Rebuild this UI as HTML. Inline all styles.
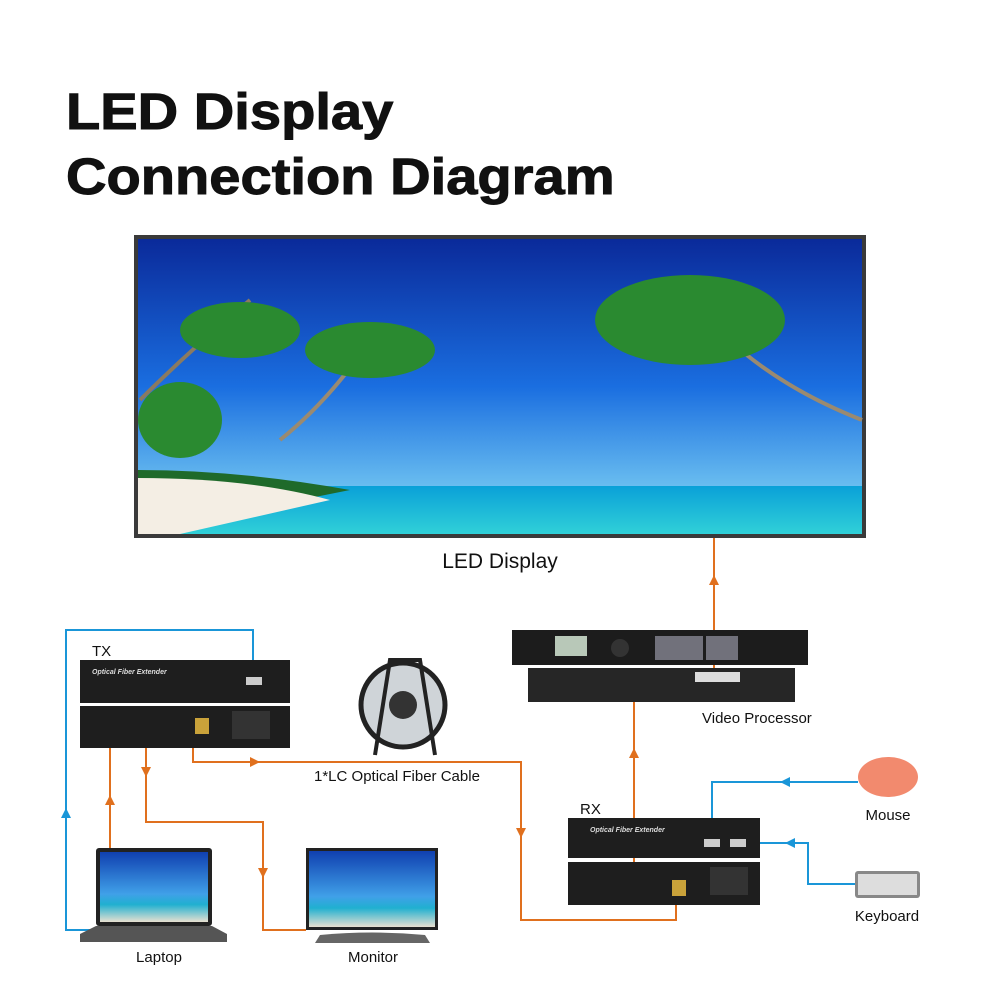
<!DOCTYPE html>
<html><head><meta charset="utf-8"><style>
html,body{margin:0;padding:0;background:#fff;width:1000px;height:1000px;overflow:hidden}
svg{display:block}
text{font-family:"Liberation Sans",Arial,sans-serif}
</style></head><body>
<svg width="1000" height="1000" viewBox="0 0 1000 1000" xmlns="http://www.w3.org/2000/svg">
<defs>
<linearGradient id="sky" x1="0" y1="0" x2="0" y2="1">
<stop offset="0" stop-color="#0a2a9a"/><stop offset="0.5" stop-color="#1a6ee0"/><stop offset="0.85" stop-color="#6cc0f0"/><stop offset="1" stop-color="#b8e4f8"/>
</linearGradient>
<linearGradient id="sea" x1="0" y1="0" x2="0" y2="1">
<stop offset="0" stop-color="#0aa0d8"/><stop offset="1" stop-color="#30d0d8"/>
</linearGradient>
<linearGradient id="scr" x1="0" y1="0" x2="0" y2="1">
<stop offset="0" stop-color="#1040b0"/><stop offset="0.6" stop-color="#40a0e8"/><stop offset="0.75" stop-color="#20b0d0"/><stop offset="1" stop-color="#e8e0d0"/>
</linearGradient>
</defs>
<g transform="translate(66,0) scale(1.1,1) translate(-66,0)">
<text x="66" y="129" font-size="51" font-weight="bold" fill="#111" stroke="#111" stroke-width="1">LED Display</text>
<text x="66" y="194" font-size="51" font-weight="bold" fill="#111" stroke="#111" stroke-width="1">Connection Diagram</text>
</g>

<!-- LED display -->
<rect x="134" y="235" width="732" height="303" fill="#3a3a3a"/>
<rect x="138" y="239" width="724" height="295" fill="url(#sky)"/>
<rect x="138" y="486" width="724" height="48" fill="url(#sea)"/>
<path d="M138 470 Q240 470 350 490 L300 500 Q250 520 138 534 Z" fill="#1f6a2a"/>
<path d="M138 478 Q250 478 330 500 L180 534 L138 534 Z" fill="#f4eee4"/>
<path d="M140 400 Q190 350 250 300" stroke="#8a7a60" stroke-width="4" fill="none"/>
<path d="M280 440 Q330 400 370 340" stroke="#9a8a70" stroke-width="4" fill="none"/>
<path d="M862 420 Q760 380 700 310" stroke="#9a8a70" stroke-width="4" fill="none"/>
<g fill="#2a8a30">
<ellipse cx="240" cy="330" rx="60" ry="28"/><ellipse cx="370" cy="350" rx="65" ry="28"/>
<ellipse cx="690" cy="320" rx="95" ry="45"/><ellipse cx="180" cy="420" rx="42" ry="38"/>
</g>

<text x="500" y="568" font-size="21" text-anchor="middle" fill="#111">LED Display</text>

<!-- orange lines -->
<g stroke="#e0701e" stroke-width="2" fill="none">
<path d="M714 538 V670"/>
<path d="M634 690 V895"/>
<path d="M193 735 V762 H521 V920 H676 V895"/>
<path d="M110 740 V850"/>
<path d="M146 740 V822 H263 V930 H306"/>
</g>
<g fill="#e0701e">
<path d="M709 585 L714 575 L719 585Z"/>
<path d="M629 758 L634 748 L639 758Z"/>
<path d="M250 757 L260 762 L250 767Z"/>
<path d="M516 828 L521 838 L526 828Z"/>
<path d="M105 805 L110 795 L115 805Z"/>
<path d="M141 767 L146 777 L151 767Z"/>
<path d="M258 868 L263 878 L268 868Z"/>
</g>
<!-- blue lines -->
<g stroke="#1a96d8" stroke-width="2" fill="none">
<path d="M253 680 V630 H66 V930 H95"/>
<path d="M858 782 H712 V840"/>
<path d="M855 884 H808 V843 H740"/>
</g>
<g fill="#1a96d8">
<path d="M61 818 L66 808 L71 818Z"/>
<path d="M790 777 L780 782 L790 787Z"/>
<path d="M795 838 L785 843 L795 848Z"/>
</g>

<!-- Video processor -->
<rect x="512" y="630" width="296" height="35" fill="#1c1c1c"/>
<rect x="555" y="636" width="32" height="20" fill="#b8c8b8"/>
<circle cx="620" cy="648" r="9" fill="#333"/>
<g fill="#aab"><rect x="655" y="636" width="48" height="24" opacity=".6"/><rect x="706" y="636" width="32" height="24" opacity=".6"/></g>
<rect x="528" y="668" width="267" height="34" fill="#262626"/>
<rect x="695" y="672" width="45" height="10" fill="#ddd"/>
<text x="702" y="723" font-size="15" fill="#111">Video Processor</text>

<!-- TX -->
<text x="92" y="656" font-size="15" fill="#111">TX</text>
<rect x="80" y="660" width="210" height="43" fill="#1e1e1e"/>
<text x="92" y="674" font-size="7" font-style="italic" font-weight="bold" fill="#ddd">Optical Fiber Extender</text>
<rect x="246" y="677" width="16" height="8" fill="#ccc"/>
<rect x="80" y="706" width="210" height="42" fill="#1e1e1e"/>
<rect x="232" y="711" width="38" height="28" fill="#333"/>
<rect x="195" y="718" width="14" height="16" fill="#c9a23a"/>

<!-- fiber reel -->
<circle cx="403" cy="705" r="42" fill="#cfd4d8" stroke="#222" stroke-width="5"/>
<circle cx="403" cy="705" r="14" fill="#333"/>
<path d="M375 755 L390 660 L420 660 L435 755" stroke="#222" stroke-width="4" fill="none"/>
<text x="314" y="781" font-size="15" fill="#111">1*LC Optical Fiber Cable</text>

<!-- RX -->
<text x="580" y="814" font-size="15" fill="#111">RX</text>
<rect x="568" y="818" width="192" height="40" fill="#1e1e1e"/>
<text x="590" y="832" font-size="7" font-style="italic" font-weight="bold" fill="#ddd">Optical Fiber Extender</text>
<rect x="704" y="839" width="16" height="8" fill="#ccc"/><rect x="730" y="839" width="16" height="8" fill="#ccc"/>
<rect x="568" y="862" width="192" height="43" fill="#1e1e1e"/>
<rect x="710" y="867" width="38" height="28" fill="#333"/>
<rect x="672" y="880" width="14" height="16" fill="#c9a23a"/>

<!-- laptop -->
<rect x="96" y="848" width="116" height="78" rx="3" fill="#222"/>
<rect x="100" y="852" width="108" height="70" fill="url(#scr)"/>
<path d="M80 934 L96 926 H212 L227 934 V942 H80Z" fill="#555"/>
<text x="159" y="962" font-size="15" text-anchor="middle" fill="#111">Laptop</text>
<!-- monitor -->
<rect x="306" y="848" width="132" height="82" fill="#222"/>
<rect x="309" y="851" width="126" height="76" fill="url(#scr)"/>
<path d="M320 935 Q372 930 425 935 L430 943 H315Z" fill="#666"/>
<text x="373" y="962" font-size="15" text-anchor="middle" fill="#111">Monitor</text>

<!-- mouse -->
<ellipse cx="888" cy="777" rx="30" ry="20" fill="#f28a6e"/>
<text x="888" y="820" font-size="15" text-anchor="middle" fill="#111">Mouse</text>
<!-- keyboard -->
<rect x="855" y="871" width="65" height="27" rx="3" fill="#888"/>
<rect x="858" y="874" width="59" height="21" fill="#ddd"/>
<text x="887" y="921" font-size="15" text-anchor="middle" fill="#111">Keyboard</text>
</svg>
</body></html>
